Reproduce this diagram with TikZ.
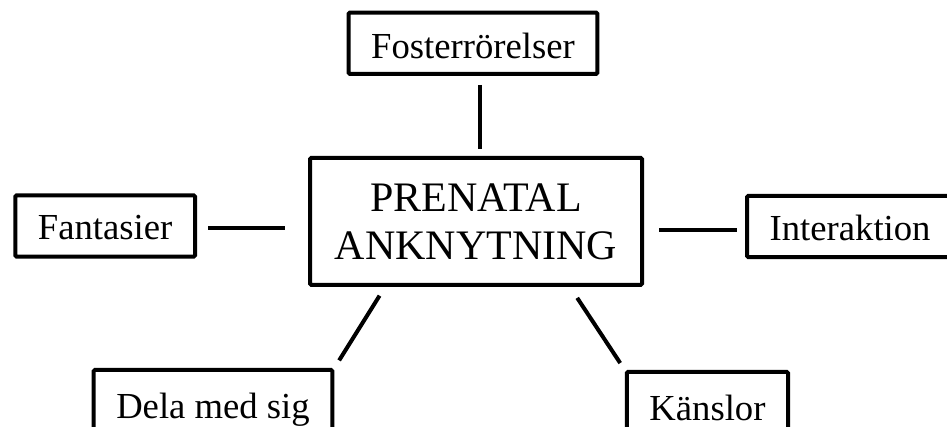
\documentclass[tikz,border=0pt]{standalone}
\usepackage{fontspec}
\setmainfont{Liberation Serif}
\usetikzlibrary{positioning,calc}

\begin{document}
\begin{tikzpicture}[line width=3pt,
	main node/.style={rectangle,draw,rounded corners=1pt,inner sep=0pt,align=center,
		font=\fontsize{31.5pt}{36pt}\selectfont, minimum width = 249pt, minimum height = 95.25pt},
	side node/.style={rectangle,draw,rounded corners=1pt,inner ysep=0pt,inner xsep=17pt,
		font=\fontsize{27.5pt}{33pt}\selectfont, text height=21pt, text depth=0pt,
		minimum height = 46pt}]

	\useasboundingbox (0,0) rectangle (710.25pt,-320.25pt);
	\clip (0,0) rectangle (710.25pt,-320.25pt);

    \node[main node] (P) at (357pt,-166.1pt) {PRENATAL\\ANKNYTNING};
    \node[side node, text height=23pt] (F) [above = 60pt of P, xshift=-2.25pt] {Fosterrörelser};
    \node[side node] (Fa) [left = 83.25pt of P, yshift=-3.4pt] {Fantasier};
    \node[side node] (I) [right = 75.75pt of P, yshift=-3.75pt] {Interaktion};
    \node[side node, text height=27pt] (D) [below = 60.75pt of P, xshift=-197.25pt] {Dela med sig};
    \node[side node, text height=27pt] (K) [below = 62.25pt of P, xshift=173.6pt] {Känslor};

	\draw[shorten <=6.75pt, shorten >=5.25pt] ([xshift=3pt]P.north |- F.south) -- ([xshift=3pt]P.north);
	\draw[shorten <=8.25pt, shorten >=17.25pt] ([yshift=-1.5pt]Fa.east) -- ([yshift=-1.5pt]Fa.east -| P.west);
	\draw[shorten <=11.25pt, shorten >=6pt] ([yshift=-3pt]I.west -| P.east) -- ([yshift=-3pt]I.west);
	\draw[shorten <=7.7pt, shorten >=6.7pt] ([xshift=-68.25pt]P.south) -- (D.north east);
	\draw[shorten <=9.8pt, shorten >=6.2pt] ([xshift=70.5pt]P.south) -- (K.north west);

\end{tikzpicture}
\end{document}
